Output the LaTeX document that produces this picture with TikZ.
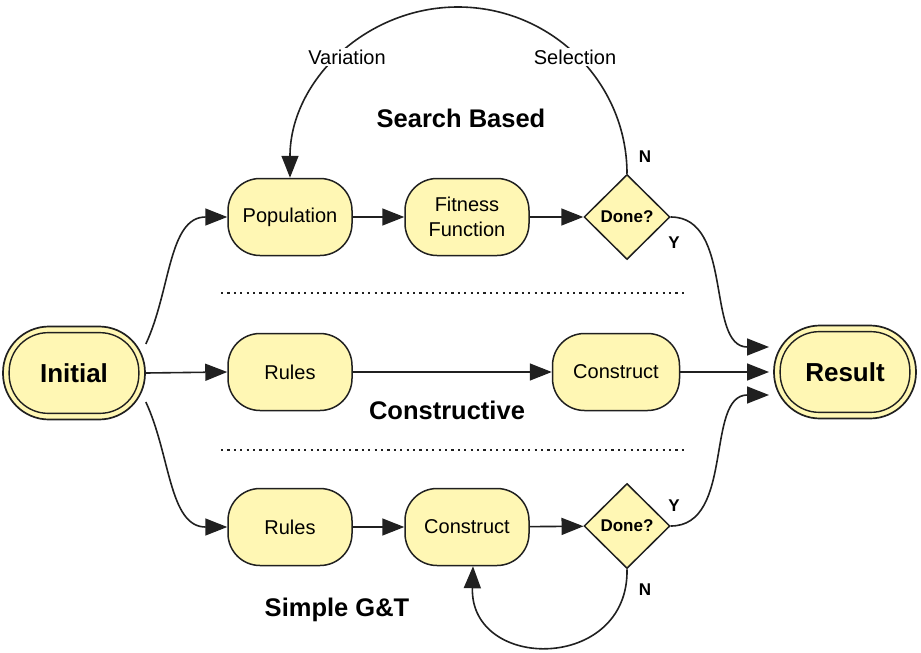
\documentclass[tikz,border=0pt]{standalone}
\usepackage{fontspec}
\setmainfont{Liberation Sans}
\usetikzlibrary{shapes.geometric,arrows.meta,calc}
\definecolor{yel}{HTML}{FFF7B4}
\definecolor{bord}{HTML}{202020}
\begin{document}
\begin{tikzpicture}[x=1pt,y=-1pt,
  proc/.style={draw=bord,fill=yel,line width=1.5pt,rounded corners=32pt,minimum width=124pt,minimum height=77pt,inner sep=0pt,align=center,font=\fontsize{20}{25}\selectfont},
  term/.style={draw=bord,fill=yel,line width=1.7pt,rounded corners=46pt,minimum width=142pt,minimum height=93pt,inner sep=0pt,font=\fontsize{26}{30}\selectfont\bfseries},
  dec/.style={diamond,shape aspect=1,draw=bord,fill=yel,line width=1.5pt,minimum width=86pt,minimum height=85pt,inner sep=0pt,font=\fontsize{17}{20}\selectfont\bfseries},
  arr/.style={draw=bord,line width=1.6pt,-{Triangle[length=22pt,width=17pt]}},
  lbl/.style={font=\fontsize{20}{24}\selectfont,fill=white,inner sep=2pt},
  yn/.style={font=\fontsize{17}{20}\selectfont\bfseries},
  title/.style={font=\fontsize{25.5}{30}\selectfont\bfseries},
  dots/.style={draw=bord,line width=2.2pt,dash pattern=on 2.2pt off 4.2pt}]
\useasboundingbox (0,0) rectangle (921,653);
% nodes
\node[term] (init) at (74,373) {Initial};
\draw[bord,line width=1.4pt,rounded corners=39pt] ($(init.south west)+(7,-7)$) rectangle ($(init.north east)+(-7,7)$);
\node[term] (res) at (845,372) {Result};
\draw[bord,line width=1.4pt,rounded corners=39pt] ($(res.south west)+(7,-7)$) rectangle ($(res.north east)+(-7,7)$);
\node[proc] (pop) at (290,217) {Population};
\node[proc] (fit) at (467,217) {Fitness\\Function};
\node[dec] (d1) at (627,217) {Done?};
\node[proc] (rul2) at (290,372) {Rules};
\node[proc,minimum width=127pt] (con2) at (616,372) {Construct};
\node[proc] (rul3) at (290,527) {Rules};
\node[proc] (con3) at (467,527) {Construct};
\node[dec] (d3) at (627,526) {Done?};
\coordinate (r1) at (769,347);
\coordinate (r2) at (769,372);
\coordinate (r3) at (769,395);
% connectors
\draw[arr] (init.22) to[out=65,in=180] (pop.west);
\draw[arr] (init.east) -- (rul2.west);
\draw[arr] (init.-22) to[out=-65,in=180] (rul3.west);
\draw[arr] (pop) -- (fit);
\draw[arr] (fit) -- (d1);
\draw[arr] (d1.east) to[out=0,in=180] (r1);
\draw[arr] (rul2) -- (con2);
\draw[arr] (con2) -- (r2);
\draw[arr] (rul3) -- (con3);
\draw[arr] (con3) -- (d3);
\draw[arr] (d3.east) to[out=0,in=180] (r3);
\draw[arr] (d1.north) .. controls (627,82) and (551,7) .. (458,7) .. controls (365,7) and (290,82) .. (pop.north);
\draw[arr] (d3.south) .. controls (629,672) and (470,672) .. ([xshift=6pt]con3.south);
% labels
\node[lbl] (var) at (347,57) {Variation};
\node[lbl] (sel) at (575,57) {Selection};
\node[yn] (n1) at (645,157) {N};
\node[yn] (y1) at (674,243) {Y};
\node[yn] (y3) at (674,506) {Y};
\node[yn] (n3) at (645,590) {N};
\node[title] (t1) at (461,118) {Search Based};
\node[title] (t2) at (447,410) {Constructive};
\node[title] (t3) at (337,610) {Simple G\&T};
% separators
\draw[dots] (221,293) -- (688,293);
\draw[dots] (221,450) -- (688,450);
\end{tikzpicture}
\end{document}
